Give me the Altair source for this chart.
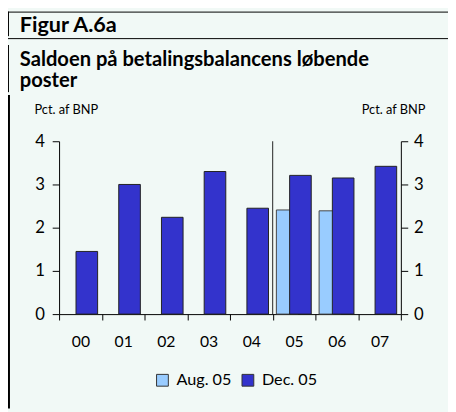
import altair as alt
import pandas as pd

years = ["00", "01", "02", "03", "04", "05", "06", "07"]
dec05 = [1.45, 3.0, 2.24, 3.30, 2.45, 3.21, 3.15, 3.42]
aug_years = ["05", "06"]
aug05 = [2.41, 2.39]
series = ["Aug. 05", "Dec. 05"]
colors = ["#99CCFF", "#3333CC"]
title_lines = ["Saldoen på betalingsbalancens løbende", "poster"]

FONT = "Lato"
df_dec = pd.DataFrame({"year": years, "value": dec05, "series": "Dec. 05"})
df_aug = pd.DataFrame({"year": aug_years, "value": aug05, "series": "Aug. 05"})

W, H = 348, 176
PL, PT = 52, 132

xenc = alt.X("year:O", scale=alt.Scale(domain=years, paddingInner=0, paddingOuter=0),
             axis=alt.Axis(title=None, labelAngle=0, tickBand="extent", tickSize=6,
                           labelFont=FONT, labelFontSize=16, labelColor="#000",
                           labelPadding=14, domainColor="#000", tickColor="#000"))
yscale = alt.Scale(domain=[0, 4])
color = alt.Color("series:N", scale=alt.Scale(domain=series, range=colors),
                  legend=alt.Legend(title=None, orient="none", direction="horizontal",
                                    legendX=97, legendY=235, symbolType="square",
                                    symbolSize=144, symbolStrokeColor="#333",
                                    symbolStrokeWidth=1, labelFont=FONT, labelFontSize=16.5,
                                    labelColor="#000", labelOffset=6, columnPadding=8))

aug = alt.Chart(df_aug).mark_bar(width=22, xOffset=-7, stroke="#444", strokeWidth=1).encode(
    x=xenc,
    y=alt.Y("value:Q", scale=yscale,
            axis=alt.Axis(title=None, orient="left", values=[0, 1, 2, 3, 4], grid=False,
                          tickSize=7, labelFont=FONT, labelFontSize=17, labelColor="#000",
                          labelPadding=8, domainColor="#000", tickColor="#000")),
    color=color,
)
dec = alt.Chart(df_dec).mark_bar(width=22, xOffset=6.5, stroke="#222", strokeWidth=1).encode(
    x=xenc,
    y=alt.Y("value:Q", scale=yscale,
            axis=alt.Axis(title=None, orient="right", values=[0, 1, 2, 3, 4], grid=False,
                          tickSize=7, labelFont=FONT, labelFontSize=17, labelColor="#000",
                          labelPadding=6, domainColor="#000", tickColor="#000")),
    color=color,
)

def rule(x, x2, y, y2, w=1, c="#000"):
    return alt.Chart(pd.DataFrame({"a": [0]})).mark_rule(color=c, strokeWidth=w).encode(
        x=alt.value(x), x2=alt.value(x2), y=alt.value(y), y2=alt.value(y2))

def text(t, x, y, size, bold=False, align="left"):
    return alt.Chart(pd.DataFrame({"a": [0]})).mark_text(
        font=FONT, fontSize=size, fontWeight="bold" if bold else "normal",
        align=align, baseline="alphabetic", color="#000", text=t).encode(
        x=alt.value(x), y=alt.value(y))

deco = [
    rule(-PL, 396, -PT + 0.5, -PT + 0.5),
    rule(-PL, 396, -PT + 27.5, -PT + 27.5),
    rule(-PL + 0.5, -PL + 0.5, -PT, -PT + 25),
    rule(-PL + 0.5, -PL + 0.5, -PT + 34, -PT + 82),
    rule(-PL + 1, -PL + 1, -PT + 85, 272, w=2),
    rule(217.5, 217.5, 0, H, w=1, c="#222"),
    text("Figur A.6a", -PL + 12, -PT + 21, 22, bold=True),
    text(title_lines[0], -PL + 12, -PT + 55, 20.5, bold=True),
    text(title_lines[1], -PL + 12, -PT + 77, 20.5, bold=True),
    text("Pct. af BNP", -PL + 27, -28, 13),
    text("Pct. af BNP", 373, -28, 13, align="right"),
]

chart = alt.layer(aug, dec, *deco).resolve_axis(y="independent").properties(
    width=W, height=H, background="#F1F9F6",
    padding={"left": PL, "top": PT, "right": 448 - PL - W, "bottom": 404 - PT - H},
    autosize=alt.AutoSizeParams(type="none"),
).configure_view(stroke=None)

chart.save("out.html", embed_options={"renderer": "svg", "actions": False})
